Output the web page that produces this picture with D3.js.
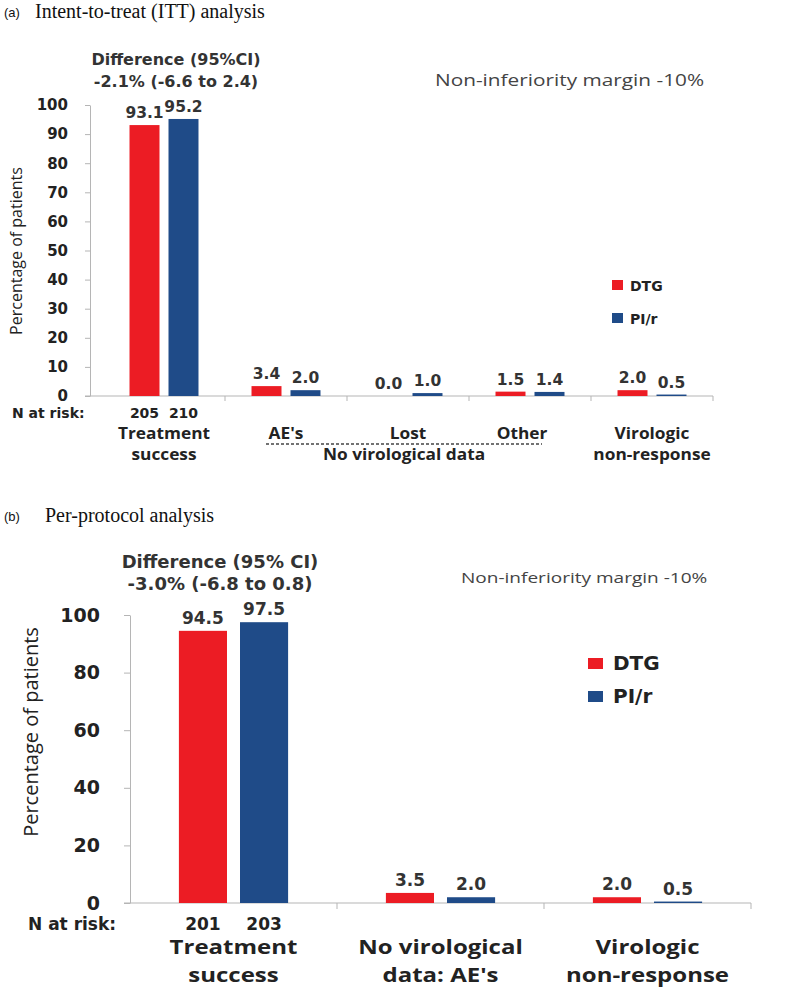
<!DOCTYPE html>
<html><head><meta charset="utf-8">
<script src="https://cdn.jsdelivr.net/npm/d3@7"></script>
<style>body{margin:0;background:#fff} svg{display:block}</style>
</head><body>
<svg id="c" width="800" height="993"></svg>
<script>
// ---------- data ----------
const series = ["DTG", "PI/r"];
const seriesColors = ["#ec1c24", "#1f4b88"];

const ittCategories = ["Treatment success", "AE's", "Lost", "Other", "Virologic non-response"];
const ittLabelLines = [["Treatment", "success"], ["AE's"], ["Lost"], ["Other"], ["Virologic", "non-response"]];
const ittGroupLabel = "No virological data";
const ittDTG = [93.1, 3.4, 0.0, 1.5, 2.0];
const ittPIr = [95.2, 2.0, 1.0, 1.4, 0.5];
const ittN = [205, 210];
const ittTicks = [0, 10, 20, 30, 40, 50, 60, 70, 80, 90, 100];
const ittDiff = ["Difference (95%CI)", "-2.1% (-6.6 to 2.4)"];

const ppCategories = ["Treatment success", "No virological data: AE's", "Virologic non-response"];
const ppLabelLines = [["Treatment", "success"], ["No virological", "data: AE's"], ["Virologic", "non-response"]];
const ppDTG = [94.5, 3.5, 2.0];
const ppPIr = [97.5, 2.0, 0.5];
const ppN = [201, 203];
const ppTicks = [0, 20, 40, 60, 80, 100];
const ppDiff = ["Difference (95% CI)", "-3.0% (-6.8 to 0.8)"];

const marginText = "Non-inferiority margin -10%";
const yLabel = "Percentage of patients";
const nRiskLabel = "N at risk:";

// ---------- drawing ----------
const svg = d3.select("#c");
const NUM = "'DejaVu Sans', Verdana, sans-serif";
const CAL = "'Open Sans', Lato, sans-serif";

// text stretched horizontally by sx around its anchor
function stext(g, x, y, str, fs, sx, opts = {}) {
  return g.append("text")
    .attr("transform", `translate(${x},${y}) scale(${sx},1)`)
    .attr("text-anchor", opts.anchor || "start")
    .attr("font-family", opts.family || CAL)
    .attr("font-weight", opts.weight || "normal")
    .attr("font-size", fs).attr("fill", opts.fill || "#222").text(str);
}

function drawPanel(o) {
  const g = svg.append("g");
  const x = d3.scaleBand().domain(o.categories).range([o.x0, o.x1]);
  const xs = d3.scaleBand().domain(series).range([0, x.bandwidth()]).paddingInner(o.pi).paddingOuter(o.po);
  const y = d3.scaleLinear().domain([0, 100]).range([o.yB, o.yT]);
  const color = d3.scaleOrdinal().domain(series).range(seriesColors);

  // panel title
  g.append("text").attr("x", 4).attr("y", o.titleY - 1).text(o.tag)
    .attr("font-family", "'Liberation Sans', Arial").attr("font-size", 13).attr("fill", "#111");
  g.append("text").attr("x", o.titleX).attr("y", o.titleY).text(o.title)
    .attr("font-family", "'Liberation Serif', 'Times New Roman', serif").attr("font-size", 20).attr("fill", "#111");

  // difference text
  o.diff.forEach((t, i) => g.append("text").attr("x", o.diffX).attr("y", o.diffY + i * o.diffDy)
    .attr("text-anchor", "middle").attr("font-family", NUM).attr("font-weight", "bold")
    .attr("font-size", o.diffFs).attr("fill", "#333").text(t));

  // margin text
  stext(g, o.marginX, o.marginY, marginText, o.marginFs, o.marginSx, { fill: "#444" });

  // y axis
  const ya = g.append("g").attr("transform", `translate(${o.axisX},0)`)
    .call(d3.axisLeft(y).tickValues(o.ticks).tickSize(o.tick).tickSizeOuter(0).tickPadding(o.tickPad));
  ya.select(".domain").attr("stroke", "#b5b5b5");
  ya.selectAll(".tick line").attr("stroke", "#b5b5b5");
  ya.selectAll(".tick text").attr("font-family", NUM).attr("font-weight", "bold")
    .attr("font-size", o.tickFs).attr("fill", "#222");

  // y label
  g.append("text").attr("transform", `translate(${o.yLabX},${o.yLabY}) rotate(-90)`)
    .attr("text-anchor", "middle").attr("font-family", CAL).attr("font-size", o.yLabFs)
    .attr("fill", "#222").text(yLabel);

  // x axis line + category boundary ticks
  g.append("line").attr("x1", o.axisX - o.tick).attr("x2", o.x1)
    .attr("y1", y(0)).attr("y2", y(0)).attr("stroke", "#b5b5b5");
  const bounds = o.categories.slice(1).map(c => x(c)).concat([o.x1]);
  g.selectAll(".bt").data(bounds).enter().append("line")
    .attr("x1", d => d).attr("x2", d => d).attr("y1", y(0)).attr("y2", y(0) + o.tick)
    .attr("stroke", "#b5b5b5");

  // bars
  const rows = o.categories.map((c, i) => ({ c, vals: [o.dtg[i], o.pir[i]] }));
  const grp = g.selectAll(".grp").data(rows).enter().append("g")
    .attr("transform", d => `translate(${x(d.c)},0)`);
  grp.selectAll("rect").data(d => d.vals.map((v, j) => ({ s: series[j], v }))).enter().append("rect")
    .attr("x", d => xs(d.s)).attr("width", xs.bandwidth())
    .attr("y", d => y(d.v)).attr("height", d => y(0) - y(d.v))
    .attr("fill", d => color(d.s));
  grp.selectAll("text").data(d => d.vals.map((v, j) => ({ s: series[j], v }))).enter().append("text")
    .attr("x", d => xs(d.s) + xs.bandwidth() / 2).attr("y", d => y(d.v) - o.valGap)
    .attr("text-anchor", "middle").attr("font-family", NUM).attr("font-weight", "bold")
    .attr("font-size", o.valFs).attr("fill", "#333").text(d => d.v.toFixed(1));

  // N at risk
  g.append("text").attr("x", o.nX).attr("y", o.nY).text(nRiskLabel)
    .attr("font-family", NUM).attr("font-weight", "bold").attr("font-size", o.nFs).attr("fill", "#222");
  g.selectAll(".nr").data(o.n).enter().append("text")
    .attr("x", (d, j) => x(o.categories[0]) + xs(series[j]) + xs.bandwidth() / 2).attr("y", o.nY)
    .attr("text-anchor", "middle").attr("font-family", NUM).attr("font-weight", "bold")
    .attr("font-size", o.nFs).attr("fill", "#222").text(d => d);

  // category labels
  o.labelLines.forEach((lines, i) => {
    const cx = x(o.categories[i]) + x.bandwidth() / 2 + (o.labelShift ? o.labelShift[i] : 0);
    lines.forEach((t, k) => stext(g, cx, o.catY + k * o.catDy, t, o.catFs, o.catSx,
      { anchor: "middle", weight: "bold" }));
  });

  // legend
  series.forEach((s, j) => {
    g.append("rect").attr("x", o.legX).attr("y", o.legY + j * o.legDy - o.legH)
      .attr("width", o.legW).attr("height", o.legH).attr("fill", color(s));
    g.append("text").attr("x", o.legX + o.legW + o.legGap).attr("y", o.legY + j * o.legDy + 1)
      .attr("font-family", NUM).attr("font-weight", "bold").attr("font-size", o.legFs)
      .attr("fill", "#222").text(s);
  });
  return { g, x, y };
}

// (a) ITT
const aCfg = {
  tag: "(a)", title: "Intent-to-treat (ITT) analysis", titleX: 35, titleY: 18,
  diff: ittDiff, diffX: 176, diffY: 65, diffDy: 22, diffFs: 16,
  marginX: 435, marginY: 86, marginFs: 16, marginSx: 1.3,
  categories: ittCategories, labelLines: ittLabelLines, dtg: ittDTG, pir: ittPIr, n: ittN,
  x0: 103, x1: 713, pi: 0.231, po: 0.68,
  yB: 396, yT: 105, axisX: 90, ticks: ittTicks, tick: 5, tickPad: 17, tickFs: 15,
  yLabX: 22, yLabY: 251, yLabFs: 16,
  valGap: 7, valFs: 15.5,
  nX: 12, nY: 418, nFs: 14,
  catY: 439, catDy: 21, catFs: 16, catSx: 1.08, labelShift: [0, 0, 0, -8, 0],
  legX: 612, legY: 290, legDy: 33, legW: 11, legH: 10, legGap: 7, legFs: 14
};
const a = drawPanel(aCfg);
// dashed bracket + group label for "No virological data"
{
  const x = a.x, cw = x.bandwidth() / 2;
  const xL = x("AE's") + cw - 20;
  const xR = x("Other") + cw + 12;
  a.g.append("line").attr("x1", xL).attr("x2", xR).attr("y1", 444).attr("y2", 444)
    .attr("stroke", "#444").attr("stroke-width", 1.4).attr("stroke-dasharray", "3,2");
  stext(a.g, x("Lost") + cw - 4, 460, ittGroupLabel, 16, 1.08, { anchor: "middle", weight: "bold" });
}

// (b) Per-protocol
drawPanel({
  tag: "(b)", title: "Per-protocol analysis", titleX: 45, titleY: 522,
  diff: ppDiff, diffX: 220, diffY: 568, diffDy: 22, diffFs: 18,
  marginX: 461, marginY: 583, marginFs: 15, marginSx: 1.27,
  categories: ppCategories, labelLines: ppLabelLines, dtg: ppDTG, pir: ppPIr, n: ppN,
  x0: 130, x1: 751, pi: 0.213, po: 0.8,
  yB: 903, yT: 615, axisX: 130, ticks: ppTicks, tick: 6, tickPad: 24, tickFs: 19,
  yLabX: 38, yLabY: 732, yLabFs: 20,
  valGap: 7, valFs: 17,
  nX: 28, nY: 930, nFs: 17,
  catY: 954, catDy: 28, catFs: 20, catSx: 1.2,
  legX: 588, legY: 669, legDy: 33, legW: 15, legH: 11, legGap: 10, legFs: 20
});
</script>
</body></html>
